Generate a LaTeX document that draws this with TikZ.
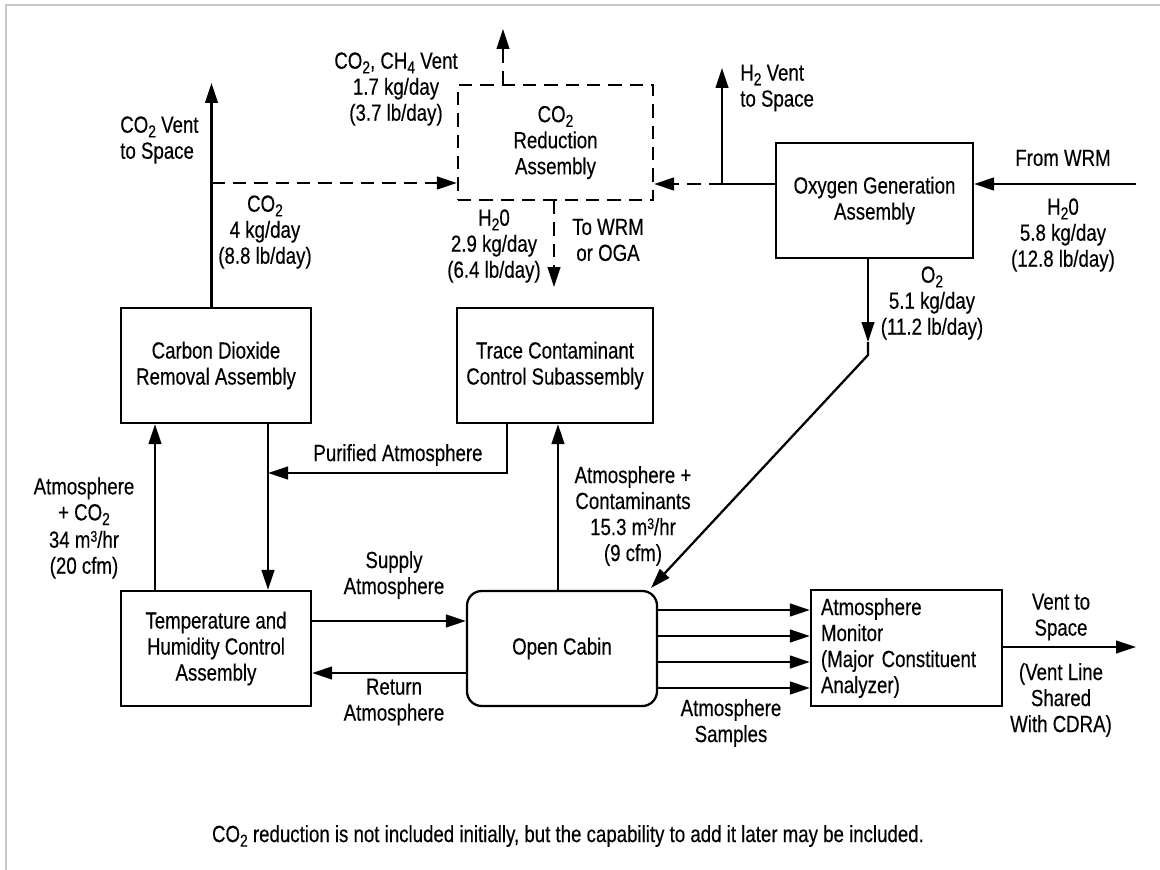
\documentclass[tikz,border=0pt]{standalone}
\usepackage{fontspec}
\setmainfont{Liberation Sans}[FakeStretch=0.80,FakeBold=0.35]
\usetikzlibrary{arrows.meta}
\newcommand{\lsub}[1]{\raisebox{-3.5pt}{\fontsize{13}{13}\selectfont #1}}
\newcommand{\lsup}[1]{\raisebox{4.5pt}{\fontsize{11.5}{11.5}\selectfont #1}}
\newcommand{\lbl}{\fontsize{17.5}{19.5}\selectfont}
\begin{document}
\begin{tikzpicture}[x=0.75pt,y=-0.75pt,
  box/.style={draw, line width=1.7pt, inner sep=0pt, minimum height=86.25pt, align=center, font=\lbl},
  lab/.style={align=center, font=\lbl, inner sep=0pt},
  arr/.style={line width=1.7pt, -{Triangle[length=15pt,width=9.5pt]}},
  darr/.style={arr, dash pattern=on 10pt off 6pt},
  dline/.style={dash pattern=on 10pt off 6pt}]
\useasboundingbox (0,0) rectangle (1160,870);
\draw[black!22, line width=1.6pt] (6,870) -- (6,5) -- (1160,5);

% boxes
\node[box, minimum width=142.5pt] (cdra) at (216,365.5) {Carbon Dioxide\\Removal Assembly};
\node[box, minimum width=147pt] (tccs) at (555,365.5) {Trace Contaminant\\Control Subassembly};
\node[box, dline, minimum width=146.25pt] (co2r) at (555.5,142.5) {CO\lsub{2}\\Reduction\\Assembly};
\node[box, minimum width=147.75pt] (oga) at (874.5,200.5) {Oxygen Generation\\Assembly};
\node[box, minimum width=142.5pt] (thca) at (216,648.5) {Temperature and\\Humidity Control\\Assembly};
\node[box, rounded corners=11pt, minimum width=142.5pt] (cabin) at (562,648.5) {Open Cabin};
\node[box, align=left, text width=128.25pt, inner xsep=7.5pt, minimum height=87pt] (am) at (906.5,648) {Atmosphere\\Monitor\\(Major Constituent\\Analyzer)};

% labels
\node[lab] (lvent) at (396,89) {CO\lsub{2}, CH\lsub{4} Vent\\1.7 kg/day\\(3.7 lb/day)};
\node[lab, align=left, anchor=west] (lco2vent) at (120,140) {CO\lsub{2} Vent\\to Space};
\node[lab] (lco2) at (265,232) {CO\lsub{2}\\4 kg/day\\(8.8 lb/day)};
\node[lab] (lh2o) at (494,246) {H\lsub{2}0\\2.9 kg/day\\(6.4 lb/day)};
\node[lab] (ltowrm) at (608,240) {To WRM\\or OGA};
\node[lab, align=left, anchor=west] (lh2vent) at (740,88) {H\lsub{2} Vent\\to Space};
\node[lab] (lfrom) at (1063,158) {From WRM};
\node[lab] (lh2oin) at (1063,235) {H\lsub{2}0\\5.8 kg/day\\(12.8 lb/day)};
\node[lab] (lo2) at (932,303) {O\lsub{2}\\5.1 kg/day\\(11.2 lb/day)};
\node[lab] (lpur) at (398,455) {Purified Atmosphere};
\node[lab] (latm) at (84,528) {Atmosphere\\+ CO\lsub{2}\\[1pt]34 m\lsup{3}/hr\\(20 cfm)};
\node[lab] (lcont) at (633,516) {Atmosphere +\\Contaminants\\15.3 m\lsup{3}/hr\\(9 cfm)};
\node[lab] (lsupply) at (394,575) {Supply\\Atmosphere};
\node[lab] (lret) at (394,702) {Return\\Atmosphere};
\node[lab] (lsamp) at (731,723) {Atmosphere\\Samples};
\node[lab] (lvts) at (1061,617) {Vent to\\Space};
\node[lab] (lvl) at (1061,700) {(Vent Line\\Shared\\With CDRA)};
\node[lab] (note) at (568,836) {CO\lsub{2} reduction is not included initially, but the capability to add it later may be included.};

% connectors
\coordinate (co2top) at (211.5,83);
\draw[arr] (co2top |- cdra.north) -- (co2top);
\coordinate (j1) at (211.5,183);
\draw[darr] (j1) -- (j1 -| co2r.west);
\coordinate (ch4top) at (503,29);
\draw[darr] (ch4top |- co2r.north) -- (ch4top);
\coordinate (h2oend) at (554,287);
\draw[darr] (h2oend |- co2r.south) -- (h2oend);
\coordinate (j2) at (722,184);
\coordinate (h2top) at (722,68);
\draw[arr] (j2 -| oga.west) -- (j2) -- (h2top);
\draw[darr] (j2) -- (j2 -| co2r.east);
\coordinate (wrm) at (1136,184);
\draw[arr] (wrm) -- (wrm -| oga.east);
\coordinate (o2a) at (868,342);
\coordinate (o2b) at (868,355);
\coordinate (cabne) at (651,588);
\draw[arr] (o2a |- oga.south) -- (o2a);
\draw[arr] (o2a) -- (o2b) -- (cabne);
\coordinate (c1) at (268,0);
\draw[arr] (c1 |- cdra.south) -- (c1 |- thca.north);
\coordinate (c2) at (155,0);
\draw[arr] (c2 |- thca.north) -- (c2 |- cdra.south);
\coordinate (p1) at (507,473);
\draw[arr] (p1 |- tccs.south) -- (p1) -- (p1 -| c1);
\coordinate (c3) at (558,0);
\draw[arr] (c3 |- cabin.north) -- (c3 |- tccs.south);
\coordinate (s1) at (0,621);
\draw[arr] (s1 -| thca.east) -- (s1 -| cabin.west);
\coordinate (r1) at (0,673);
\draw[arr] (r1 -| cabin.west) -- (r1 -| thca.east);
\foreach \yy [count=\i] in {610,636,662,688} {
  \coordinate (sm\i) at (0,\yy);
  \draw[arr] (sm\i -| cabin.east) -- (sm\i -| am.west);
}
\coordinate (v1) at (1136,647);
\draw[arr] (v1 -| am.east) -- (v1);
\end{tikzpicture}
\end{document}
